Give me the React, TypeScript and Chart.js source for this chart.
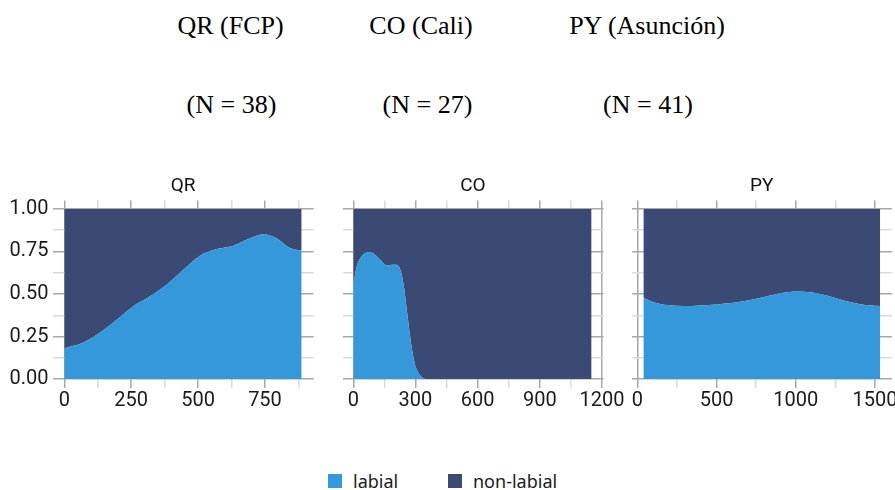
import React, { useEffect, useRef } from "react";
import { Chart, registerables } from "chart.js";

Chart.register(...registerables);

// ---------- data ----------
const seriesNames = ["labial", "non-labial"];

const qrX = [0, 72, 134, 197, 259, 321, 383, 445, 507, 570, 632, 694, 744, 793, 843, 887];
const qrLabial = [0.18, 0.215, 0.273, 0.35, 0.43, 0.487, 0.556, 0.643, 0.725, 0.764, 0.784, 0.828, 0.852, 0.828, 0.77, 0.755];
const qrNonLabial = [0.82, 0.785, 0.727, 0.65, 0.57, 0.513, 0.444, 0.357, 0.275, 0.236, 0.216, 0.172, 0.148, 0.172, 0.23, 0.245];

const coX = [0, 17, 34, 58, 82, 106, 131, 163, 187, 208, 227, 244, 260, 276, 292, 308, 332, 357, 450, 600, 800, 1000, 1150];
const coLabial = [0.556, 0.663, 0.71, 0.74, 0.745, 0.73, 0.7, 0.667, 0.672, 0.672, 0.643, 0.546, 0.39, 0.234, 0.117, 0.05, 0.01, 0, 0, 0, 0, 0, 0];
const coNonLabial = [0.444, 0.337, 0.29, 0.26, 0.255, 0.27, 0.3, 0.333, 0.328, 0.328, 0.357, 0.454, 0.61, 0.766, 0.883, 0.95, 0.99, 1, 1, 1, 1, 1, 1];

const pyX = [38, 103, 187, 292, 397, 502, 607, 712, 818, 922, 1006, 1091, 1196, 1301, 1406, 1532];
const pyLabial = [0.478, 0.452, 0.435, 0.429, 0.433, 0.439, 0.448, 0.464, 0.487, 0.507, 0.515, 0.51, 0.491, 0.462, 0.44, 0.429];
const pyNonLabial = [0.522, 0.548, 0.565, 0.571, 0.567, 0.561, 0.552, 0.536, 0.513, 0.493, 0.485, 0.49, 0.509, 0.538, 0.56, 0.571];

const yTicks = [0, 0.125, 0.25, 0.375, 0.5, 0.625, 0.75, 0.875, 1];
const yMajor = [0, 0.25, 0.5, 0.75, 1];

const qrXTicks = [0, 125, 250, 375, 500, 625, 750, 875];
const qrXMajor = [0, 250, 500, 750];
const coXTicks = [0, 150, 300, 450, 600, 750, 900, 1050, 1200];
const coXMajor = [0, 300, 600, 900, 1200];
const pyXTicks = [0, 250, 500, 750, 1000, 1250, 1500];
const pyXMajor = [0, 500, 1000, 1500];

const panelTitles = ["QR", "CO", "PY"];
const headTitles = ["QR (FCP)", "CO (Cali)", "PY (Asunción)"];
const headCounts = ["(N = 38)", "(N = 27)", "(N = 41)"];

// ---------- style ----------
const LABIAL = "#3598da";
const NONLABIAL = "#3a4a74";
const GRID_MAJOR = "#a8a8a8";
const GRID_MINOR = "#dadada";
const TICK_FONT = "Roboto";

type PanelProps = {
  title: string;
  xs: number[];
  labial: number[];
  nonLabial: number[];
  xMin: number;
  xMax: number;
  xTicks: number[];
  xMajor: number[];
  showY: boolean;
  left: number;
  width: number;
  padLeft: number;
  padRight: number;
  yAxisWidth: number;
};

function Panel(p: PanelProps) {
  const ref = useRef<HTMLCanvasElement | null>(null);
  const H = 250;
  useEffect(() => {
    if (!ref.current) return;
    const chart = new Chart(ref.current, {
      type: "line",
      data: {
        datasets: [
          {
            label: seriesNames[0],
            data: p.xs.map((x, i) => ({ x, y: p.labial[i] })),
            backgroundColor: LABIAL,
            borderColor: "rgba(0,0,0,0)",
            borderWidth: 0,
            pointRadius: 0,
            fill: "origin",
            cubicInterpolationMode: "monotone",
          },
          {
            label: seriesNames[1],
            data: p.xs.map((x, i) => ({ x, y: p.nonLabial[i] })),
            backgroundColor: NONLABIAL,
            borderColor: "rgba(0,0,0,0)",
            borderWidth: 0,
            pointRadius: 0,
            fill: "-1",
            cubicInterpolationMode: "monotone",
          },
        ],
      },
      options: {
        responsive: false,
        animation: false,
        layout: { padding: { top: 4.6, bottom: 6.45, left: p.padLeft, right: p.padRight } },
        plugins: {
          legend: { display: false },
          tooltip: { enabled: false },
          title: {
            display: true,
            text: p.title,
            fullSize: false,
            color: "#111",
            font: { family: TICK_FONT, size: 19, weight: "normal" },
            padding: { top: 0, bottom: 3.05 },
          },
        },
        scales: {
          x: {
            type: "linear",
            min: p.xMin,
            max: p.xMax,
            border: { display: false },
            grid: {
              drawTicks: false,
              lineWidth: 1.5,
              color: (ctx: any) => (p.xMajor.includes(ctx.tick?.value) ? GRID_MAJOR : GRID_MINOR),
            },
            afterBuildTicks: (scale: any) => {
              scale.ticks = p.xTicks.map((v) => ({ value: v }));
            },
            ticks: {
              autoSkip: false,
              maxRotation: 0,
              padding: 1,
              color: "#1a1a1a",
              font: { family: TICK_FONT, size: 20 },
              callback: (v: any) => (p.xMajor.includes(Number(v)) ? String(v) : ""),
            },
          },
          y: {
            type: "linear",
            stacked: true,
            min: -0.05,
            max: 1.05,
            border: { display: false },
            grid: {
              drawTicks: false,
              lineWidth: 1.5,
              color: (ctx: any) => (yMajor.includes(ctx.tick?.value) ? GRID_MAJOR : GRID_MINOR),
            },
            afterBuildTicks: (scale: any) => {
              scale.ticks = yTicks.map((v) => ({ value: v }));
            },
            afterFit: (scale: any) => {
              scale.width = p.yAxisWidth;
            },
            ticks: {
              display: p.showY,
              autoSkip: false,
              padding: 4,
              color: "#1a1a1a",
              font: { family: TICK_FONT, size: 20 },
              callback: (v: any) => (yMajor.includes(Number(v)) ? Number(v).toFixed(2) : ""),
            },
          },
        },
      } as any,
    });
    return () => chart.destroy();
  }, []);
  return (
    <canvas
      ref={ref}
      width={p.width}
      height={H}
      style={{ position: "absolute", left: p.left, top: 170, width: p.width, height: H }}
    />
  );
}

const headCenters1 = [230.5, 421, 647];
const headCenters2 = [231.5, 427.5, 648];

export default function App() {
  const serif: React.CSSProperties = {
    position: "absolute",
    width: 240,
    textAlign: "center",
    fontFamily: "'Liberation Serif', 'Times New Roman', serif",
    fontSize: 26,
    lineHeight: "30px",
    color: "#000",
    fontVariantNumeric: "oldstyle-nums",
    whiteSpace: "nowrap",
  };
  return (
    <div
      style={{
        position: "absolute",
        left: 0,
        top: 0,
        width: 895,
        height: 490,
        overflow: "hidden",
        background: "#fff",
      }}
    >
      {headTitles.map((t, i) => (
        <div key={"h" + i} style={{ ...serif, left: headCenters1[i] - 120, top: 11 }}>
          {t}
        </div>
      ))}
      {headCounts.map((t, i) => (
        <div key={"n" + i} style={{ ...serif, left: headCenters2[i] - 120, top: 90 }}>
          {t}
        </div>
      ))}
      <Panel
        title={panelTitles[0]}
        xs={qrX}
        labial={qrLabial}
        nonLabial={qrNonLabial}
        xMin={-44}
        xMax={932}
        xTicks={qrXTicks}
        xMajor={qrXMajor}
        showY={true}
        left={0}
        width={340}
        padLeft={0}
        padRight={26.3}
        yAxisWidth={52.5}
      />
      <Panel
        title={panelTitles[1]}
        xs={coX}
        labial={coLabial}
        nonLabial={coNonLabial}
        xMin={-52}
        xMax={1207}
        xTicks={coXTicks}
        xMajor={coXMajor}
        showY={false}
        left={320}
        width={310}
        padLeft={22.5}
        padRight={26.6}
        yAxisWidth={0}
      />
      <Panel
        title={panelTitles[2]}
        xs={pyX}
        labial={pyLabial}
        nonLabial={pyNonLabial}
        xMin={-37}
        xMax={1606}
        xTicks={pyXTicks}
        xMajor={pyXMajor}
        showY={false}
        left={610}
        width={290}
        padLeft={21.5}
        padRight={8.1}
        yAxisWidth={0}
      />
      {/* legend */}
      {[
        { name: seriesNames[0], color: LABIAL, x: 328 },
        { name: seriesNames[1], color: NONLABIAL, x: 448 },
      ].map((l) => (
        <div
          key={l.name}
          style={{
            position: "absolute",
            left: l.x,
            top: 469,
            height: 24,
            display: "flex",
            alignItems: "center",
            fontFamily: "'Noto Sans', sans-serif",
            fontSize: 18,
            color: "#1a1a1a",
            whiteSpace: "nowrap",
          }}
        >
          <span style={{ display: "inline-block", width: 14, height: 14, background: l.color, marginRight: 11 }} />
          <span>{l.name}</span>
        </div>
      ))}
    </div>
  );
}
